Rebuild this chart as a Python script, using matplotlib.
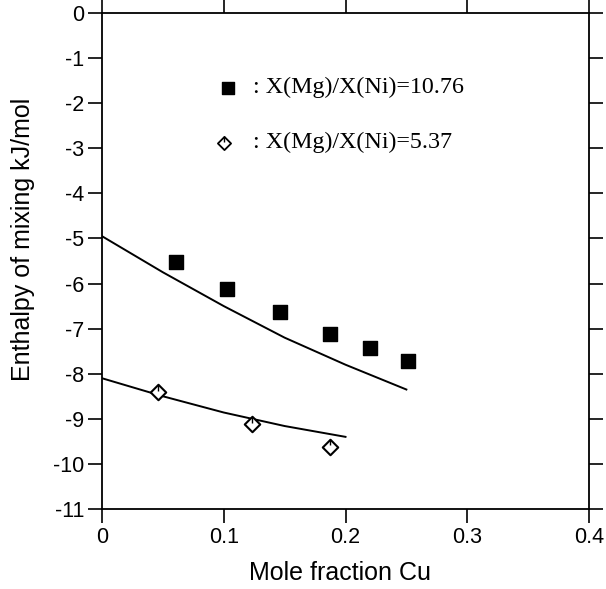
import matplotlib
matplotlib.use("Agg")
import matplotlib.pyplot as plt

# data
sq_x = [0.061, 0.103, 0.146, 0.187, 0.220, 0.251]
sq_y = [-5.53, -6.12, -6.62, -7.13, -7.42, -7.72]
dm_x = [0.046, 0.123, 0.187]
dm_y = [-8.41, -9.12, -9.62]
fit1_x = [0.0, 0.05, 0.10, 0.15, 0.20, 0.25]
fit1_y = [-4.95, -5.75, -6.50, -7.20, -7.80, -8.35]
fit2_x = [0.0, 0.05, 0.10, 0.15, 0.20]
fit2_y = [-8.10, -8.50, -8.86, -9.16, -9.40]
xticks = [0, 0.1, 0.2, 0.3, 0.4]
xticklabels = ["0", "0.1", "0.2", "0.3", "0.4"]
yticks = list(range(0, -12, -1))
leg1 = ": X(Mg)/X(Ni)=10.76"
leg2 = ": X(Mg)/X(Ni)=5.37"

plt.rcParams['font.family'] = ['Liberation Sans', 'DejaVu Sans']

fig = plt.figure(figsize=(6.06, 5.89), dpi=100)
ax = fig.add_axes([102/606, 1-509/589, (589-102)/606, (509-13)/589])

ax.plot(fit1_x, fit1_y, color='black', lw=1.4)
ax.plot(fit2_x, fit2_y, color='black', lw=1.4)
ax.scatter(sq_x, sq_y, marker='s', s=92, color='black', zorder=3)
ax.scatter(dm_x, dm_y, marker='D', s=62, facecolor='white', edgecolor='black', linewidths=1.5, zorder=3)
# small inner stroke of the diamond symbols
ax.scatter(dm_x, [v + 0.1 for v in dm_y], marker='|', s=25, color='black', linewidths=1.0, zorder=4)

ax.set_xlim(0, 0.4)
ax.set_ylim(-11, 0)
ax.set_xticks(xticks)
ax.set_xticklabels(xticklabels)
ax.set_yticks(yticks)
ax.set_yticklabels([str(v) for v in yticks])
ax.tick_params(direction='out', length=10, width=1.2, labelsize=15.5, pad=3,
               top=True, right=True)
for s in ax.spines.values():
    s.set_linewidth(1.3)

ax.set_xlabel("Mole fraction Cu", fontsize=18)
ax.set_ylabel("Enthalpy of mixing kJ/mol", fontsize=18)
ax.yaxis.set_label_coords(-0.1376, 0.544)
ax.xaxis.set_label_coords(0.489, -0.105)

# legend annotations
ax.scatter([0.1035], [-1.66], marker='s', s=65, color='black')
ax.text(0.124, -1.66, leg1, fontsize=17.3, family='Liberation Serif', va='center', ha='left')
ax.scatter([0.1000], [-2.88], marker='D', s=45, facecolor='white', edgecolor='black', linewidths=1.3)
ax.scatter([0.1000], [-2.80], marker='|', s=16, color='black', linewidths=1.0)
ax.text(0.124, -2.88, leg2, fontsize=17.3, family='Liberation Serif', va='center', ha='left')

fig.savefig("out.png", dpi=100)
